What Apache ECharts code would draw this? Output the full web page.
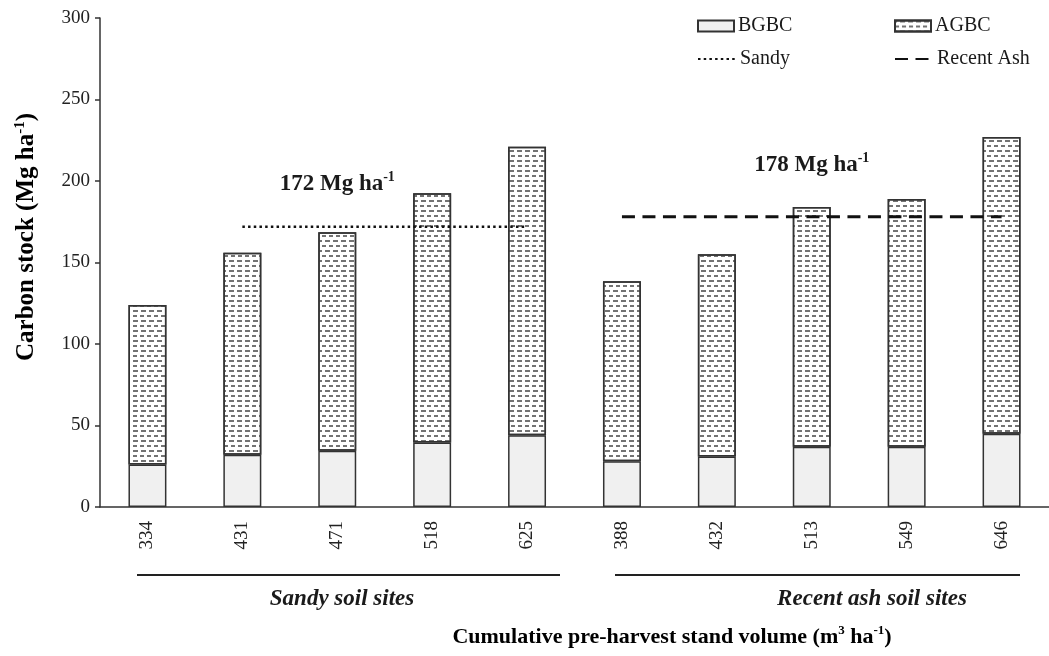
<!DOCTYPE html>
<html>
<head>
<meta charset="utf-8">
<style>
html, body { margin: 0; padding: 0; background: #fff; }
#main { width: 1049px; height: 656px; }
</style>
<script src="https://cdn.jsdelivr.net/npm/echarts@6/dist/echarts.min.js"></script>
</head>
<body>
<div id="main"></div>
<script>
// 数据
var categories = ['334', '431', '471', '518', '625', '388', '432', '513', '549', '646'];
var bgbc = [26, 32, 34.5, 39.5, 44, 28, 31, 37, 37, 45];
var agbc = [98, 124, 134, 153, 177, 110.5, 124, 147, 152, 182];
var sandyMean = [null, 172, 172, 172, 172, null, null, null, null, null];
var ashMean = [null, null, null, null, null, 178, 178, 178, 178, 178];

var FONT = 'Liberation Serif';
var ink = '#1a1a1a';

function richStyle(size) {
    return {
        b: { fontFamily: FONT, fontWeight: 'bold', fontSize: size, color: ink, lineHeight: size + 4 },
        s: { fontFamily: FONT, fontWeight: 'bold', fontSize: Math.round(size * 0.6), color: ink, lineHeight: Math.round(size * 0.6), verticalAlign: 'top' }
    };
}

var decal = {
    symbol: 'rect',
    symbolSize: 1,
    color: 'rgba(80,80,80,0.8)',
    dashArrayX: [[4, 3], [1.5, 3, 2.5, 0]],
    dashArrayY: [1.5, 3],
    rotation: 0
};

var legendText = { fontFamily: FONT, fontSize: 20, color: ink, padding: [0, 0, 0, -1] };

var option = {
    animation: false,
    backgroundColor: '#fff',
    grid: {
        left: 100,
        top: 18,
        width: 964,
        height: 489,
        containLabel: false
    },
    legend: [
        { data: ['BGBC'], icon: 'rect', left: 692, top: 11, itemWidth: 36, itemHeight: 11, itemGap: 0, textStyle: legendText },
        { data: ['AGBC'], icon: 'rect', left: 889, top: 11, itemWidth: 36, itemHeight: 11, itemGap: 0, textStyle: legendText },
        { data: ['Sandy'], left: 692, top: 44, itemWidth: 38, itemHeight: 11, itemGap: 0, itemStyle: { opacity: 0 }, textStyle: legendText },
        { data: ['Recent Ash'], left: 889, top: 44, itemWidth: 38, itemHeight: 11, itemGap: 0, itemStyle: { opacity: 0 }, textStyle: legendText }
    ],
    xAxis: {
        type: 'category',
        data: categories,
        axisLine: { lineStyle: { color: '#333', width: 1.5 } },
        axisTick: { show: false },
        axisLabel: {
            rotate: 90,
            margin: 14,
            fontFamily: FONT,
            fontSize: 19,
            color: '#222'
        }
    },
    yAxis: {
        type: 'value',
        min: 0,
        max: 300,
        interval: 50,
        axisLine: { show: true, lineStyle: { color: '#333', width: 1.5 } },
        axisTick: { show: true, inside: false, length: 5, lineStyle: { color: '#333', width: 1.5 } },
        splitLine: { show: false },
        axisLabel: { margin: 10, fontFamily: FONT, fontSize: 19, color: '#222' }
    },
    series: [
        {
            name: 'BGBC',
            type: 'bar',
            stack: 'c',
            barWidth: '40%',
            itemStyle: { color: '#f0f0f0', borderColor: '#333', borderWidth: 1.5 },
            data: bgbc
        },
        {
            name: 'AGBC',
            type: 'bar',
            stack: 'c',
            barWidth: '40%',
            itemStyle: { color: '#ffffff', borderColor: '#333', borderWidth: 1.5, decal: decal },
            data: agbc
        },
        {
            name: 'Sandy',
            type: 'line',
            symbol: 'none',
            z: 5,
            lineStyle: { color: '#111', width: 2.5, type: [2.5, 3.2] },
            itemStyle: { color: '#111' },
            data: sandyMean,
            markPoint: {
                symbol: 'rect',
                symbolSize: 0,
                label: { show: true, position: 'inside', formatter: '{b|172 Mg ha}{s|-1}', rich: richStyle(23) },
                data: [{ coord: ['471', 198] }]
            }
        },
        {
            name: 'Recent Ash',
            type: 'line',
            symbol: 'none',
            z: 5,
            lineStyle: { color: '#111', width: 3, type: [13, 7.5] },
            itemStyle: { color: '#111' },
            data: ashMean,
            markPoint: {
                symbol: 'rect',
                symbolSize: 0,
                label: { show: true, position: 'inside', formatter: '{b|178 Mg ha}{s|-1}', rich: richStyle(23) },
                data: [{ coord: ['513', 210] }]
            }
        }
    ],
    graphic: [
        {
            type: 'text', x: 27, y: 237, rotation: Math.PI / 2,
            style: {
                text: '{b|Carbon stock (Mg ha}{s|-1}{b|)}',
                rich: richStyle(25),
                align: 'center',
                verticalAlign: 'middle'
            }
        },
        { type: 'line', shape: { x1: 137, y1: 575, x2: 560, y2: 575 }, style: { stroke: '#222', lineWidth: 2 } },
        { type: 'line', shape: { x1: 615, y1: 575, x2: 1020, y2: 575 }, style: { stroke: '#222', lineWidth: 2 } },
        {
            type: 'text', x: 342, y: 599,
            style: { text: 'Sandy soil sites', font: 'italic bold 23px "Liberation Serif"', fill: ink, align: 'center', verticalAlign: 'middle' }
        },
        {
            type: 'text', x: 872, y: 599,
            style: { text: 'Recent ash soil sites', font: 'italic bold 23px "Liberation Serif"', fill: ink, align: 'center', verticalAlign: 'middle' }
        },
        {
            type: 'text', x: 672, y: 637,
            style: {
                text: '{b|Cumulative pre-harvest stand volume (m}{s|3}{b| ha}{s|-1}{b|)}',
                rich: richStyle(22),
                align: 'center',
                verticalAlign: 'middle'
            }
        }
    ]
};

var chart = echarts.init(document.getElementById('main'));
chart.setOption(option);
window.addEventListener('resize', function () {
    chart.resize();
});
</script>
</body>
</html>
